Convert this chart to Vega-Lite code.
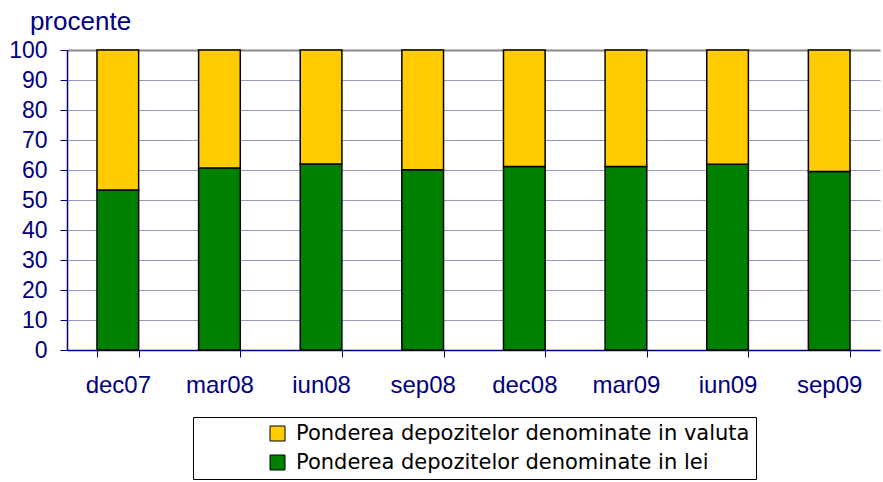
{
  "$schema": "https://vega.github.io/schema/vega-lite/v6.json",
  "autosize": {"type": "none"},
  "width": 813,
  "height": 300,
  "padding": {"left": 67, "top": 50, "right": 3, "bottom": 132},
  "background": "white",
  "config": {
    "font": "Liberation Sans",
    "view": {"stroke": null}
  },
  "data": {
    "values": [
      {"luna": "dec07", "serie": "Ponderea depozitelor denominate in lei", "valoare": 53.3},
      {"luna": "dec07", "serie": "Ponderea depozitelor denominate in valuta", "valoare": 46.7},
      {"luna": "mar08", "serie": "Ponderea depozitelor denominate in lei", "valoare": 60.7},
      {"luna": "mar08", "serie": "Ponderea depozitelor denominate in valuta", "valoare": 39.3},
      {"luna": "iun08", "serie": "Ponderea depozitelor denominate in lei", "valoare": 62.0},
      {"luna": "iun08", "serie": "Ponderea depozitelor denominate in valuta", "valoare": 38.0},
      {"luna": "sep08", "serie": "Ponderea depozitelor denominate in lei", "valoare": 60.1},
      {"luna": "sep08", "serie": "Ponderea depozitelor denominate in valuta", "valoare": 39.9},
      {"luna": "dec08", "serie": "Ponderea depozitelor denominate in lei", "valoare": 61.2},
      {"luna": "dec08", "serie": "Ponderea depozitelor denominate in valuta", "valoare": 38.8},
      {"luna": "mar09", "serie": "Ponderea depozitelor denominate in lei", "valoare": 61.2},
      {"luna": "mar09", "serie": "Ponderea depozitelor denominate in valuta", "valoare": 38.8},
      {"luna": "iun09", "serie": "Ponderea depozitelor denominate in lei", "valoare": 61.9},
      {"luna": "iun09", "serie": "Ponderea depozitelor denominate in valuta", "valoare": 38.1},
      {"luna": "sep09", "serie": "Ponderea depozitelor denominate in lei", "valoare": 59.5},
      {"luna": "sep09", "serie": "Ponderea depozitelor denominate in valuta", "valoare": 40.5}
    ]
  },
  "mark": {"type": "bar", "stroke": "black", "strokeWidth": 1.5},
  "encoding": {
    "x": {
      "field": "luna",
      "type": "nominal",
      "sort": null,
      "scale": {"paddingInner": 0.59, "paddingOuter": 0.295},
      "axis": {
        "title": null,
        "labelAngle": 0,
        "labelFontSize": 24,
        "labelColor": "#000080",
        "labelPadding": 16,
        "tickBand": "extent",
        "tickSize": 7,
        "tickColor": "#000080",
        "domainColor": "#000080",
        "domainWidth": 1.5,
        "grid": false
      }
    },
    "y": {
      "field": "valoare",
      "type": "quantitative",
      "stack": "zero",
      "scale": {"domain": [0, 100], "nice": false},
      "axis": {
        "title": "procente",
        "titleAngle": 0,
        "titleX": 13,
        "titleY": -21,
        "titleAlign": "center",
        "titleBaseline": "alphabetic",
        "titleFontSize": 26,
        "titleFontWeight": "normal",
        "titleColor": "#000080",
        "values": [0, 10, 20, 30, 40, 50, 60, 70, 80, 90, 100],
        "labelFontSize": 23,
        "labelColor": "#000080",
        "labelPadding": 13,
        "tickSize": 7,
        "tickColor": "#000080",
        "domainColor": "#000080",
        "domainWidth": 1.5,
        "grid": true,
        "gridColor": {"condition": {"test": "datum.value === 100", "value": "#888888"}, "value": "#9999bb"},
        "gridWidth": {"condition": {"test": "datum.value === 100", "value": 2}, "value": 1.2}
      }
    },
    "color": {
      "field": "serie",
      "type": "nominal",
      "scale": {
        "domain": ["Ponderea depozitelor denominate in valuta", "Ponderea depozitelor denominate in lei"],
        "range": ["#FFCC00", "#008000"]
      },
      "legend": {
        "orient": "none",
        "legendX": 126,
        "legendY": 367,
        "title": " ",
        "titleOrient": "left",
        "titlePadding": 68,
        "titleFontSize": 20,
        "strokeColor": "black",
        "fillColor": "white",
        "padding": 6,
        "labelFont": "DejaVu Sans",
        "labelFontSize": 21,
        "labelColor": "black",
        "labelLimit": 800,
        "labelOffset": 8,
        "rowPadding": 7,
        "symbolType": "square",
        "symbolSize": 225,
        "symbolStrokeColor": "black",
        "symbolStrokeWidth": 1,
        "symbolOpacity": 1
      }
    },
    "order": {"field": "serie", "sort": "ascending"}
  }
}
